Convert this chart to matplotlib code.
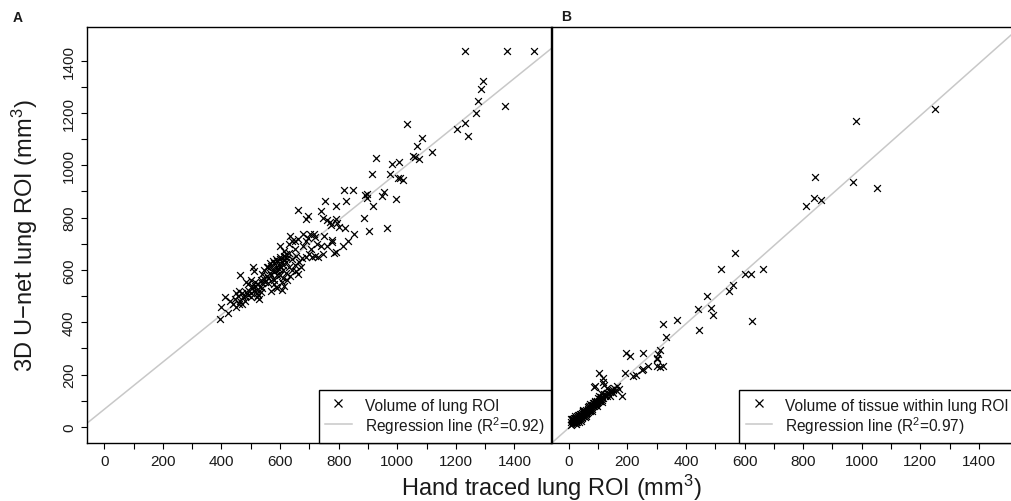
import numpy as np
import matplotlib
matplotlib.use("Agg")
import matplotlib.pyplot as plt
from matplotlib.lines import Line2D

plt.rcParams['font.family'] = ['Liberation Sans', 'DejaVu Sans']
plt.rcParams['mathtext.fontset'] = 'custom'
plt.rcParams['mathtext.rm'] = 'Liberation Sans'
plt.rcParams['mathtext.it'] = 'Liberation Sans:italic'
plt.rcParams['mathtext.bf'] = 'Liberation Sans:bold'

# ---------------- data ----------------
a_hand = [1231, 1374, 1467, 1292, 1285, 1276, 1369, 1268, 1231, 1203, 1241,
          1035, 1085, 1067, 1119, 1054, 1074, 1062,
          928, 915, 976, 981, 1007, 1004, 1019, 1010, 996,
          820, 850, 890, 898, 954, 948, 897, 919,
          825, 755, 790, 886, 905, 964,
          661, 740, 695, 688, 745, 760, 772, 790, 796, 775, 800,
          854, 832, 822,
          634, 680, 703, 715, 640, 650, 688, 777, 777, 741, 814,
          600, 620, 640, 655, 665, 675, 690, 700, 710, 720, 730, 745, 784, 790, 760,
          705, 725, 680, 650, 615, 600, 630, 660, 695, 720, 750,
          640, 655, 660, 670, 650, 635, 625, 610, 615, 605, 590, 580,
          396, 400, 422, 412, 451, 463, 485, 508, 510, 522, 570, 585, 606,
          430, 440, 445, 455, 460, 465, 470, 475, 480, 485, 490, 495, 500, 505,
          510, 515, 520, 525, 530, 535, 540, 545, 550, 555, 560, 565, 570, 575,
          580, 585, 590, 595, 600, 605, 610, 615, 620, 625,
          470, 480, 500, 520, 540, 560, 575, 590, 610, 630,
          505, 515, 545, 555, 565, 575, 585, 595, 500, 490, 525, 535, 460, 450,
          560, 570, 580, 590, 600, 615, 630, 620, 600, 580, 540, 527]
a_unet = [1438, 1438, 1438, 1324, 1292, 1247, 1228, 1199, 1161, 1139, 1113,
          1158, 1106, 1075, 1052, 1037, 1024, 1030,
          1028, 967, 968, 1006, 1013, 953, 945, 950, 872,
          905, 905, 886, 892, 897, 884, 874, 846,
          863, 862, 846, 797, 750, 759,
          829, 824, 807, 796, 798, 790, 782, 795, 778, 770, 765,
          737, 712, 761,
          731, 737, 737, 737, 710, 712, 710, 716, 705, 690, 690,
          650, 660, 640, 655, 630, 645, 650, 660, 648, 655, 648, 660, 665, 670, 690,
          680, 700, 690, 680, 672, 690, 700, 720, 722, 725, 730,
          600, 595, 585, 610, 620, 575, 560, 570, 540, 525, 530, 545,
          412, 460, 435, 495, 457, 580, 552, 610, 597, 495, 520, 533, 552,
          480, 470, 490, 500, 470, 480, 510, 495, 500, 515, 505, 520, 510, 530,
          520, 540, 525, 545, 535, 560, 550, 565, 555, 575, 570, 590, 580, 600,
          595, 610, 600, 620, 615, 630, 620, 640, 630, 645,
          470, 480, 495, 510, 530, 550, 565, 580, 600, 610,
          540, 555, 600, 610, 625, 635, 640, 605, 560, 545, 505, 515, 520, 510,
          610, 615, 625, 635, 640, 655, 665, 590, 580, 560, 585, 488]

b_hand = [981, 1251, 840, 970, 1052, 836, 860, 809,
          569, 518, 603, 623, 663, 562, 547, 473, 441, 487, 494, 446, 626, 322, 370, 333,
          197, 209, 253, 300, 305, 310, 302, 300, 310, 320, 270, 250, 255, 220, 231, 191,
          103, 116, 116, 89, 180, 173, 163, 146, 129, 150, 160, 140, 130, 120, 110, 87,
          8, 10, 12, 14, 15, 16, 18, 20, 20, 22, 24, 25, 26, 28, 30, 30, 32, 34, 35, 36,
          38, 40, 40, 42, 44, 45, 46, 48, 50, 50, 52, 54, 55, 56, 58, 60, 60, 62, 64, 65,
          66, 68, 70, 70, 72, 74, 75, 76, 78, 80, 80, 82, 84, 85, 86, 88, 90, 90, 92, 94,
          95, 96, 98, 100, 100, 102, 105, 108, 110, 112, 115, 118, 120, 122, 125, 128,
          130, 135, 140, 145, 150, 155, 12, 18, 22, 28, 33, 38, 44, 52, 58, 66, 74, 82,
          6, 9, 14, 20, 26, 32, 40, 47, 55, 63, 70, 78, 88, 96, 104, 112, 36, 48, 60, 72]
b_unet = [1168, 1214, 954, 937, 913, 874, 867, 843,
          664, 603, 584, 584, 603, 543, 518, 499, 450, 454, 428, 371, 406, 392, 408, 343,
          281, 269, 281, 265, 278, 295, 258, 232, 228, 232, 231, 218, 222, 195, 197, 205,
          204, 185, 172, 155, 116, 145, 157, 132, 119, 130, 140, 118, 150, 160, 130, 151,
          18, 25, 12, 20, 30, 15, 22, 28, 14, 35, 20, 26, 32, 18, 38, 25, 30, 40, 28, 45,
          35, 48, 30, 42, 52, 38, 45, 55, 42, 60, 48, 56, 62, 45, 58, 66, 52, 60, 70, 55,
          64, 72, 60, 78, 68, 66, 80, 72, 70, 85, 74, 82, 78, 90, 80, 84, 95, 82, 88, 92,
          100, 90, 94, 110, 96, 98, 100, 105, 115, 104, 110, 112, 125, 118, 120, 122,
          128, 130, 135, 140, 142, 150, 28, 34, 15, 40, 25, 50, 35, 62, 48, 75, 60, 90,
          28, 8, 30, 40, 12, 44, 22, 60, 36, 52, 80, 62, 100, 78, 118, 96, 20, 64, 42, 88]

# regression lines (slope, intercept)
a_fit = (0.904, 67.0)
b_fit = (0.995, -4.0)

a_labels = ["Volume of lung ROI", "Regression line (R$^{2}$=0.92)"]
b_labels = ["Volume of tissue within lung ROI", "Regression line (R$^{2}$=0.97)"]

x_major = list(range(0, 1401, 200))
x_minor = list(range(0, 1401, 100))
y_major = list(range(0, 1401, 200))
y_minor = list(range(0, 1401, 100))

# ---------------- figure ----------------
W, H = 1011, 502
fig = plt.figure(figsize=(W / 100, H / 100), dpi=100)
axA = fig.add_axes([87 / W, 58.5 / H, 464 / W, 415.8 / H])
axB = fig.add_axes([551.5 / W, 58.5 / H, 464 / W, 415.8 / H])

line_col = '#c8c8c8'
text_col = '#1a1a1a'

for ax, xs, ys, fit, labels in [(axA, a_hand, a_unet, a_fit, a_labels),
                                (axB, b_hand, b_unet, b_fit, b_labels)]:
    ax.scatter(xs, ys, marker='x', s=24, c='black', linewidths=0.9, zorder=3)
    ax.axline((0, fit[1]), slope=fit[0], color=line_col, lw=1.1, zorder=2)
    ax.set_xlim(-59, 1525)
    ax.set_ylim(-60, 1530)
    ax.set_xticks(x_major)
    ax.set_xticks(x_minor, minor=True)
    ax.tick_params(axis='both', which='both', direction='out', length=4,
                   width=0.8, colors='black', labelcolor=text_col,
                   labelsize=11, pad=4)
    for s in ax.spines.values():
        s.set_linewidth(1.0)
        s.set_color('black')
    handles = [Line2D([], [], marker='x', ls='none', color='black',
                      markersize=6, markeredgewidth=0.9),
               Line2D([], [], color=line_col, lw=1.1)]
    leg = ax.legend(handles, labels, loc='lower right', bbox_to_anchor=(1, 0),
                    borderaxespad=0, fancybox=False, framealpha=1,
                    edgecolor='black', fontsize=11.2, borderpad=0.42,
                    labelspacing=0.0, handleheight=1.4, handlelength=1.7,
                    handletextpad=0.85, labelcolor=text_col)
    leg.get_frame().set_linewidth(1.0)
    leg.set_zorder(5)

axA.set_yticks(y_major)
axA.set_yticks(y_minor, minor=True)
for lab in axA.get_yticklabels():
    lab.set_rotation(90)
    lab.set_va('center')
axB.set_yticks([])
axB.set_yticks([], minor=True)

fig.text(18 / W, 1 - 18 / H, 'A', fontsize=10, fontweight='bold',
         ha='center', va='center', color=text_col)
fig.text(566 / W, 1 - 17 / H, 'B', fontsize=10, fontweight='bold',
         ha='center', va='center', color=text_col)

fig.text(551 / W, 1 - 488 / H, 'Hand traced lung ROI (mm$^{3}$)', fontsize=17,
         ha='center', va='center', color=text_col)
fig.text(25 / W, 1 - 235.5 / H, '3D U\u2212net lung ROI (mm$^{3}$)', fontsize=17,
         ha='center', va='center', rotation=90, color=text_col)

fig.savefig('out.png', dpi=100)
